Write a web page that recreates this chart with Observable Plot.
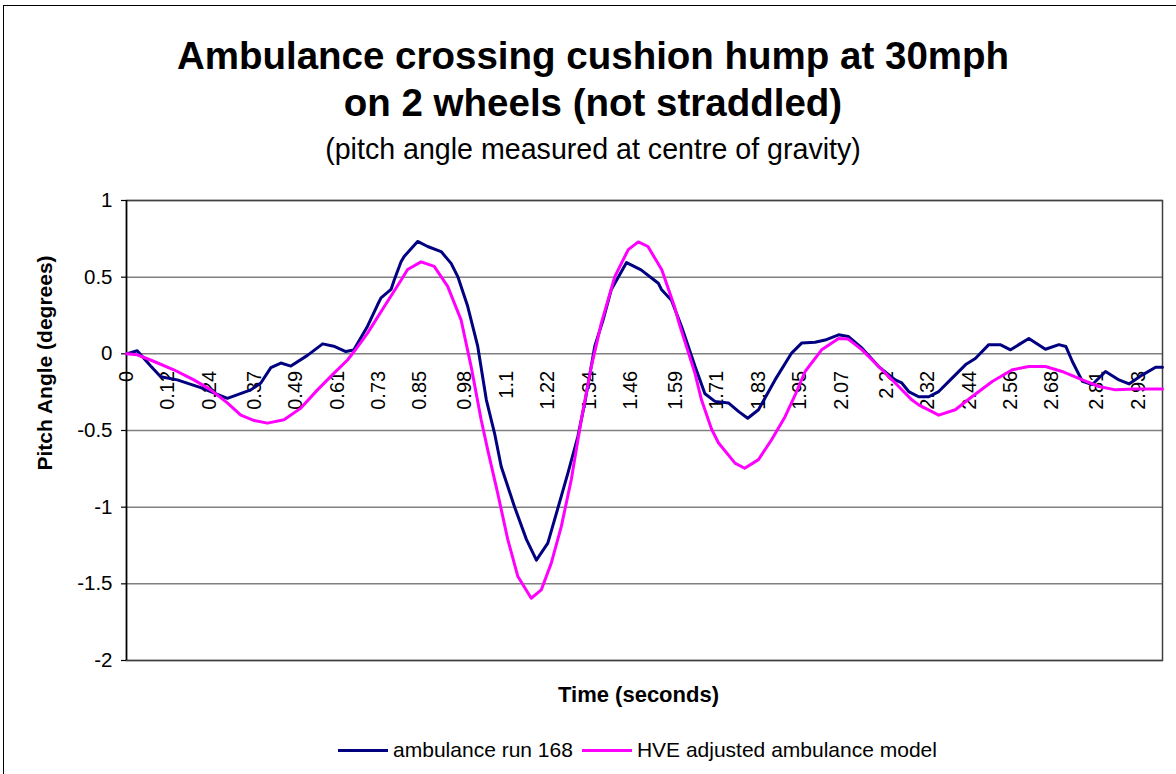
<!DOCTYPE html>
<html>
<head>
<meta charset="utf-8">
<script src="https://cdn.jsdelivr.net/npm/d3@7"></script>
<script src="https://cdn.jsdelivr.net/npm/@observablehq/plot@0.6"></script>
<style>
  html, body { margin: 0; padding: 0; background: #fff; }
  #wrap { position: relative; width: 1176px; height: 774px; overflow: hidden; font-family: "Liberation Sans", Arial, sans-serif; color: #000; }
  #border { position: absolute; left: 3px; top: 5px; width: 1300px; height: 900px; border: 1.5px solid #000; box-sizing: border-box; }
  #chart { position: absolute; left: 0; top: 0; }
  .t1 { position: absolute; left: 0; width: 1186px; text-align: center; font-weight: bold; font-size: 38.5px; line-height: 47px; top: 32px; }
  .sub { position: absolute; left: 0; width: 1186px; text-align: center; font-size: 28.6px; line-height: 28px; top: 135px; }
  #legend { position: absolute; left: 0; width: 1176px; top: 738px; display: flex; justify-content: center; align-items: center; font-size: 21px; line-height: 24px; padding-left: 108px; box-sizing: border-box; }
  .sw { display: inline-block; width: 50px; height: 3px; margin-right: 5px; }
  .item { display: flex; align-items: center; margin-right: 9px; }
</style>
</head>
<body>
<div id="wrap">
  <div id="border"></div>
  <div id="chart"></div>
  <div class="t1">Ambulance crossing cushion hump at 30mph<br>on 2 wheels (not straddled)</div>
  <div class="sub">(pitch angle measured at centre of gravity)</div>
  <div id="legend"></div>
</div>
<script>
// Series names and colours
const seriesNames = ["ambulance run 168", "HVE adjusted ambulance model"];
const seriesColors = ["#000080", "#FF00FF"];

// ambulance run 168 (measured)
const runTime = [0, 0.031, 0.07, 0.099, 0.147, 0.215, 0.292, 0.36, 0.389, 0.418, 0.447, 0.476, 0.524, 0.568, 0.60, 0.635, 0.658, 0.698, 0.727, 0.737, 0.766, 0.775, 0.795, 0.804, 0.843, 0.872, 0.911, 0.94, 0.96, 0.988, 1.017, 1.042, 1.066, 1.085, 1.124, 1.158, 1.187, 1.22, 1.25, 1.278, 1.307, 1.327, 1.356, 1.38, 1.404, 1.448, 1.49, 1.54, 1.549, 1.578, 1.607, 1.646, 1.675, 1.704, 1.743, 1.772, 1.799, 1.83, 1.878, 1.926, 1.955, 1.994, 2.023, 2.062, 2.09, 2.13, 2.178, 2.226, 2.245, 2.265, 2.294, 2.323, 2.352, 2.39, 2.43, 2.458, 2.497, 2.53, 2.56, 2.584, 2.613, 2.661, 2.7, 2.72, 2.739, 2.768, 2.797, 2.835, 2.874, 2.903, 2.942, 2.98, 3.0];
const runPitch = [0, 0.02, -0.08, -0.15, -0.17, -0.22, -0.29, -0.235, -0.19, -0.09, -0.06, -0.08, -0.01, 0.065, 0.05, 0.015, 0.025, 0.18, 0.32, 0.365, 0.42, 0.48, 0.6, 0.635, 0.733, 0.70, 0.667, 0.59, 0.5, 0.31, 0.05, -0.30, -0.52, -0.735, -1.0, -1.21, -1.345, -1.235, -1.0, -0.78, -0.54, -0.32, 0.05, 0.22, 0.42, 0.595, 0.548, 0.46, 0.42, 0.35, 0.18, -0.08, -0.26, -0.31, -0.32, -0.375, -0.42, -0.365, -0.17, 0.005, 0.07, 0.076, 0.09, 0.124, 0.113, 0.037, -0.083, -0.17, -0.19, -0.246, -0.28, -0.28, -0.246, -0.16, -0.07, -0.03, 0.06, 0.06, 0.026, 0.06, 0.1, 0.03, 0.06, 0.048, -0.05, -0.18, -0.2, -0.115, -0.17, -0.196, -0.137, -0.087, -0.087];

// HVE adjusted ambulance model
const hveTime = [0, 0.031, 0.08, 0.137, 0.195, 0.244, 0.292, 0.331, 0.37, 0.408, 0.456, 0.505, 0.553, 0.601, 0.64, 0.659, 0.698, 0.747, 0.795, 0.814, 0.853, 0.891, 0.93, 0.969, 0.998, 1.027, 1.046, 1.075, 1.104, 1.133, 1.172, 1.201, 1.23, 1.259, 1.288, 1.317, 1.346, 1.375, 1.414, 1.453, 1.482, 1.51, 1.55, 1.588, 1.60, 1.646, 1.665, 1.694, 1.714, 1.762, 1.79, 1.83, 1.868, 1.907, 1.936, 1.965, 2.013, 2.062, 2.09, 2.13, 2.178, 2.226, 2.274, 2.294, 2.352, 2.4, 2.449, 2.507, 2.565, 2.613, 2.661, 2.709, 2.768, 2.816, 2.864, 2.922, 3.0];
const hvePitch = [0, -0.006, -0.05, -0.104, -0.17, -0.235, -0.32, -0.4, -0.435, -0.452, -0.43, -0.354, -0.235, -0.126, -0.04, 0.015, 0.135, 0.31, 0.48, 0.55, 0.60, 0.57, 0.44, 0.22, -0.083, -0.43, -0.626, -0.91, -1.21, -1.45, -1.594, -1.54, -1.365, -1.127, -0.82, -0.43, -0.083, 0.2, 0.504, 0.68, 0.73, 0.70, 0.548, 0.30, 0.2, -0.126, -0.3, -0.49, -0.58, -0.713, -0.746, -0.69, -0.56, -0.41, -0.27, -0.115, 0.026, 0.1, 0.096, 0.026, -0.083, -0.19, -0.3, -0.333, -0.4, -0.365, -0.278, -0.18, -0.104, -0.083, -0.083, -0.115, -0.17, -0.213, -0.235, -0.23, -0.23];

// Axis ticks
const xTickValues = [0, 0.12, 0.24, 0.37, 0.49, 0.61, 0.73, 0.85, 0.98, 1.1, 1.22, 1.34, 1.46, 1.59, 1.71, 1.83, 1.95, 2.07, 2.2, 2.32, 2.44, 2.56, 2.68, 2.81, 2.93];
const xTickLabels = ["0", "0.12", "0.24", "0.37", "0.49", "0.61", "0.73", "0.85", "0.98", "1.1", "1.22", "1.34", "1.46", "1.59", "1.71", "1.83", "1.95", "2.07", "2.2", "2.32", "2.44", "2.56", "2.68", "2.81", "2.93"];
const yTickValues = [1, 0.5, 0, -0.5, -1, -1.5, -2];

const runData = runTime.map((t, i) => ({t, v: runPitch[i]}));
const hveData = hveTime.map((t, i) => ({t, v: hvePitch[i]}));
const xTicks = xTickValues.map((v, i) => ({v, label: xTickLabels[i]}));

const font = '"Liberation Sans", Arial, sans-serif';

const chart = Plot.plot({
  width: 1176,
  height: 774,
  marginLeft: 126,
  marginRight: 14,
  marginTop: 200,
  marginBottom: 114,
  style: {fontFamily: font, background: "transparent", overflow: "visible"},
  x: {domain: [0, 3.0], axis: null},
  y: {domain: [-2, 1], axis: null},
  marks: [
    Plot.ruleY(yTickValues, {stroke: "#808080", strokeWidth: 1.5}),
    Plot.frame({stroke: "#404040", strokeWidth: 1.5}),
    Plot.ruleX([0], {stroke: "#000", strokeWidth: 1.5}),
    Plot.axisY(yTickValues, {tickSize: 5, tickPadding: 9, tickFormat: d => String(d), fontSize: 20.5, label: null, stroke: "#000", strokeWidth: 1.2, color: "#000"}),
    Plot.text(xTicks, {x: "v", y: () => 0, text: "label", rotate: -90, textAnchor: "end", dy: 17, fontSize: 20, fill: "#000"}),
    Plot.line(runData, {x: "t", y: "v", stroke: seriesColors[0], strokeWidth: 3, strokeLinejoin: "round"}),
    Plot.line(hveData, {x: "t", y: "v", stroke: seriesColors[1], strokeWidth: 3, strokeLinejoin: "round"}),
    Plot.text(["Pitch Angle (degrees)"], {frameAnchor: "left", textAnchor: "start", dx: -81, dy: 40, rotate: -90, fontSize: 21, fontWeight: "bold", fill: "#000"}),
    Plot.text(["Time (seconds)"], {frameAnchor: "bottom", dx: -6, dy: 41, fontSize: 22, fontWeight: "bold", fill: "#000"})
  ]
});
document.getElementById("chart").appendChild(chart);

const legend = document.getElementById("legend");
seriesNames.forEach((name, i) => {
  const item = document.createElement("span");
  item.className = "item";
  const sw = document.createElement("span");
  sw.className = "sw";
  sw.style.background = seriesColors[i];
  item.appendChild(sw);
  item.appendChild(document.createTextNode(name));
  legend.appendChild(item);
});
</script>
</body>
</html>
